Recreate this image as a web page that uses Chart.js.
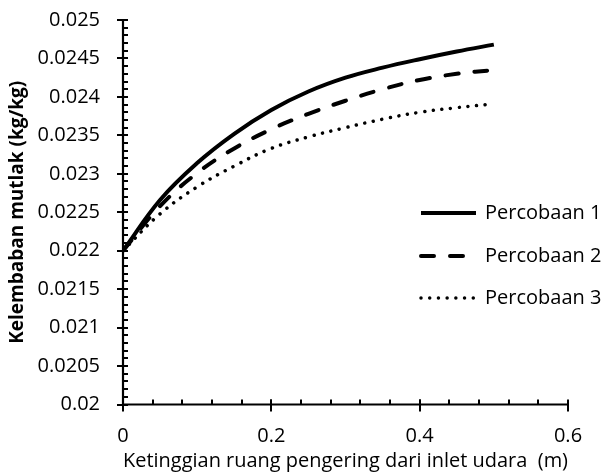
<!DOCTYPE html>
<html><head><meta charset="utf-8">
<script src="https://cdn.jsdelivr.net/npm/chart.js@4/dist/chart.umd.min.js"></script>
<style>html,body{margin:0;padding:0;background:#fff}#wrap{width:603px;height:473px}</style>
</head><body><div id="wrap"><canvas id="c" width="603" height="473"></canvas></div>
<script>
// ---- data ----
const heights = [0, 0.05, 0.1, 0.15, 0.2, 0.25, 0.3, 0.35, 0.4, 0.45, 0.5];
const percobaan1 = [0.022, 0.02266, 0.02314, 0.02352, 0.02383, 0.02407, 0.02425, 0.02438, 0.02449, 0.02459, 0.02468];
const percobaan2 = [0.022, 0.02258, 0.02301, 0.02333, 0.02358, 0.02378, 0.02395, 0.02410, 0.02422, 0.02430, 0.02435];
const percobaan3 = [0.022, 0.02248, 0.02283, 0.02310, 0.02333, 0.02348, 0.02360, 0.02371, 0.02380, 0.02386, 0.02391];
const seriesNames = ['Percobaan 1', 'Percobaan 2', 'Percobaan 3'];
const xTickValues = [0, 0.2, 0.4, 0.6];
const yTickValues = [0.02, 0.0205, 0.021, 0.0215, 0.022, 0.0225, 0.023, 0.0235, 0.024, 0.0245, 0.025];
const xMinorStep = 0.04;
const yMinorStep = 0.0001;
const xTitle = 'Ketinggian ruang pengering dari inlet udara  (m)';
const yTitle = 'Kelembaban mutlak (kg/kg)';

const FONT = "'Open Sans', sans-serif";
const pts = arr => heights.map((h, i) => ({x: h, y: arr[i]}));

const styles = [
  {borderWidth: 4, borderDash: [], borderCapStyle: 'butt'},
  {borderWidth: 4, borderDash: [13, 16], borderCapStyle: 'round'},
  {borderWidth: 3.5, borderDash: [0.01, 8.7], borderCapStyle: 'round'}
];
const seriesData = [percobaan1, percobaan2, percobaan3];

const axesPlugin = {
  id: 'axesTicks',
  afterDatasetsDraw(chart) {
    const {ctx, chartArea: a, scales: {x, y}} = chart;
    ctx.save();
    ctx.strokeStyle = '#000';
    ctx.lineCap = 'butt';
    ctx.lineWidth = 2;
    for (let v = yTickValues[0]; v <= yTickValues[yTickValues.length - 1] + 1e-9; v += yMinorStep) {
      const py = Math.round(y.getPixelForValue(v));
      ctx.beginPath(); ctx.moveTo(a.left, py); ctx.lineTo(a.left + 5, py); ctx.stroke();
    }
    yTickValues.forEach(v => {
      const py = Math.round(y.getPixelForValue(v));
      ctx.beginPath(); ctx.moveTo(a.left - 6, py); ctx.lineTo(a.left + 5, py); ctx.stroke();
    });
    for (let v = xMinorStep; v < 0.6 - 1e-9; v += xMinorStep) {
      const px = Math.round(x.getPixelForValue(v));
      ctx.beginPath(); ctx.moveTo(px, a.bottom); ctx.lineTo(px, a.bottom - 5); ctx.stroke();
    }
    xTickValues.forEach(v => {
      const px = Math.round(x.getPixelForValue(v));
      ctx.beginPath(); ctx.moveTo(px, a.bottom - 5); ctx.lineTo(px, a.bottom + 7); ctx.stroke();
    });
    ctx.lineWidth = 2.2;
    ctx.beginPath();
    ctx.moveTo(a.left, a.top); ctx.lineTo(a.left, a.bottom); ctx.lineTo(a.right, a.bottom);
    ctx.stroke();
    ctx.restore();
  }
};

const legendPlugin = {
  id: 'sideLegend',
  afterDraw(chart) {
    const {ctx} = chart;
    const rows = [213, 256, 298];
    ctx.save();
    chart.data.datasets.forEach((ds, i) => {
      const yy = rows[i];
      ctx.strokeStyle = '#000';
      ctx.lineWidth = ds.borderWidth;
      ctx.lineCap = ds.borderCapStyle;
      ctx.setLineDash(ds.borderDash);
      ctx.beginPath(); ctx.moveTo(421, yy); ctx.lineTo(476, yy); ctx.stroke();
      ctx.setLineDash([]);
      ctx.fillStyle = '#000';
      ctx.font = "20px " + FONT;
      ctx.textBaseline = 'middle';
      ctx.textAlign = 'left';
      ctx.fillText(ds.label, 485, yy);
    });
    ctx.restore();
  }
};

new Chart(document.getElementById('c'), {
  type: 'line',
  data: {
    datasets: seriesNames.map((name, i) => ({
      label: name,
      data: pts(seriesData[i]),
      borderColor: '#000',
      backgroundColor: '#000',
      pointRadius: 0,
      fill: false,
      tension: 0.4,
      ...styles[i]
    }))
  },
  options: {
    responsive: false,
    animation: false,
    devicePixelRatio: 1,
    layout: {padding: {top: 20, right: 35, left: 0, bottom: 0}},
    plugins: {legend: {display: false}, tooltip: {enabled: false}},
    scales: {
      x: {
        type: 'linear', min: 0, max: 0.6,
        afterBuildTicks: s => { s.ticks = xTickValues.map(v => ({value: v})); },
        afterFit: s => { s.height = 68.5; s.paddingLeft = 0; s.paddingRight = 0; },
        grid: {display: false, drawTicks: false},
        border: {display: false},
        ticks: {color: '#000', padding: 20, maxRotation: 0, font: {family: FONT, size: 20}, callback: v => String(v)},
        title: {display: true, text: xTitle, color: '#000', font: {family: FONT, size: 20}, padding: {top: 0, bottom: 0}}
      },
      y: {
        type: 'linear', min: 0.02, max: 0.025,
        afterBuildTicks: s => { s.ticks = yTickValues.map(v => ({value: v})); },
        afterFit: s => { s.width = 123; s.paddingTop = 0; s.paddingBottom = 0; },
        grid: {display: false, drawTicks: false},
        border: {display: false},
        ticks: {color: '#000', padding: 23, font: {family: FONT, size: 20}, callback: v => String(v)},
        title: {display: true, text: yTitle, color: '#000', font: {family: FONT, size: 19, weight: 'bold'}, padding: {top: 6, bottom: 0}}
      }
    }
  },
  plugins: [axesPlugin, legendPlugin]
});
</script>
</body></html>
